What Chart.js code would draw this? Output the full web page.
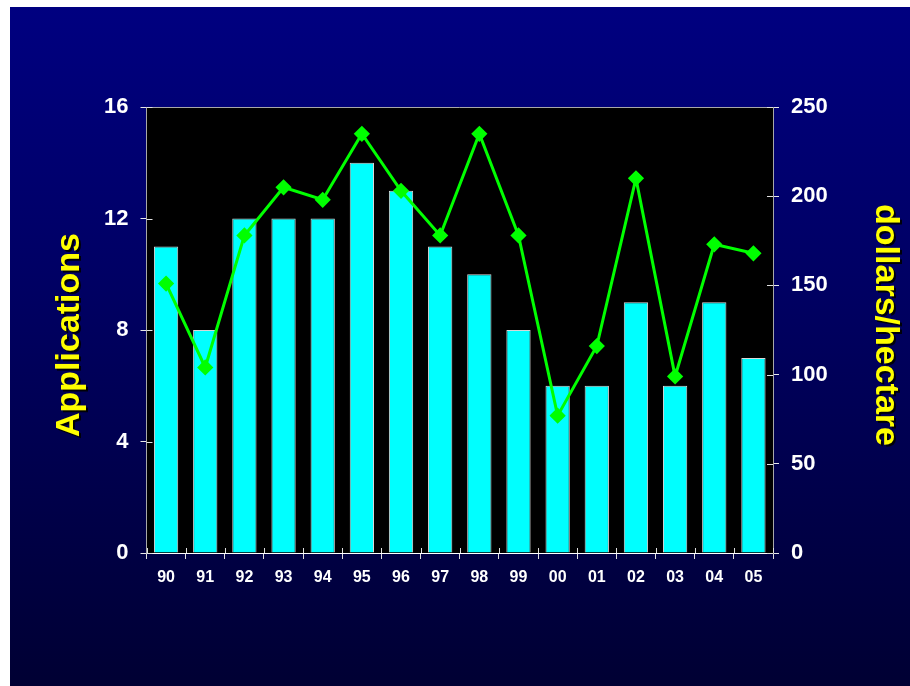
<!DOCTYPE html>
<html>
<head>
<meta charset="utf-8">
<script src="https://cdn.jsdelivr.net/npm/chart.js@4.4.1/dist/chart.umd.min.js"></script>
<style>
  html, body { margin: 0; padding: 0; background: #fff; }
  #wrap {
    position: absolute; left: 10px; top: 7px; width: 900px; height: 679px;
    background: linear-gradient(to bottom, #000080 0%, #000060 45%, #000033 100%);
  }
</style>
</head>
<body>
<div id="wrap"><canvas id="chart" width="900" height="679"></canvas></div>
<script>
const years = ["90", "91", "92", "93", "94", "95", "96", "97", "98", "99", "00", "01", "02", "03", "04", "05"];
const applications = [11, 8, 12, 12, 12, 14, 13, 11, 10, 8, 6, 6, 9, 6, 9, 7];
const dollarsPerHectare = [151, 104, 178, 205, 198, 235, 203, 178, 235, 178, 77, 116, 210, 99, 173, 168];
const leftTicks = [0, 4, 8, 12, 16];
const rightTicks = [0, 50, 100, 150, 200, 250];

const tickFont = { family: "Liberation Sans", size: 22, weight: "bold" };
const titleShift = { y: 5, y2: -5 };

// black plot area, top frame line and the inner half of each tick mark
const plotFrame = {
  id: "plotFrame",
  beforeDraw(chart) {
    const { ctx, chartArea: a } = chart;
    ctx.save();
    ctx.fillStyle = "#000";
    ctx.fillRect(a.left, a.top, a.right - a.left, a.bottom - a.top);
    ctx.restore();
  },
  afterDraw(chart) {
    const { ctx, chartArea: a, scales } = chart;
    ctx.save();
    ctx.lineWidth = 1;
    ctx.strokeStyle = "#a8a8a8";
    ctx.beginPath();
    ctx.moveTo(a.left, a.top + 0.5);
    ctx.lineTo(a.right, a.top + 0.5);
    ctx.stroke();
    ctx.strokeStyle = "#e0e0e0";
    ctx.beginPath();
    scales.y.ticks.forEach((t, i) => {
      const y = Math.round(scales.y.getPixelForTick(i)) + 0.5;
      ctx.moveTo(a.left, y); ctx.lineTo(a.left + 6, y);
    });
    scales.y2.ticks.forEach((t, i) => {
      const y = Math.round(scales.y2.getPixelForTick(i)) + 0.5;
      ctx.moveTo(a.right, y); ctx.lineTo(a.right - 6, y);
    });
    const x0 = scales.x.getPixelForValue(0);
    const w = scales.x.getPixelForValue(1) - x0;
    for (let i = 0; i <= years.length; i++) {
      const x = Math.round(x0 - w / 2 + i * w) + 0.5;
      ctx.moveTo(x, a.bottom); ctx.lineTo(x, a.bottom - 5);
    }
    ctx.stroke();
    ctx.restore();
  },
  afterUpdate(chart) {
    ["y", "y2"].forEach(id => {
      const s = chart.scales[id];
      if (s._shadowWrapped) return;
      const orig = s.drawTitle.bind(s);
      s.drawTitle = function () {
        const ctx = this.ctx;
        ctx.save();
        ctx.translate(0, titleShift[id]);
        ctx.shadowColor = "rgba(0,0,0,0.9)";
        ctx.shadowOffsetX = 2;
        ctx.shadowOffsetY = 2;
        ctx.shadowBlur = 0;
        orig();
        ctx.restore();
      };
      s._shadowWrapped = true;
    });
  }
};

new Chart(document.getElementById("chart").getContext("2d"), {
  type: "bar",
  data: {
    labels: years,
    datasets: [
      {
        type: "line",
        label: "dollars/hectare",
        data: dollarsPerHectare,
        yAxisID: "y2",
        borderColor: "#00ff00",
        backgroundColor: "#00ff00",
        borderWidth: 3,
        pointStyle: "rectRot",
        pointRadius: 6,
        tension: 0,
        order: 0
      },
      {
        label: "Applications",
        data: applications,
        yAxisID: "y",
        backgroundColor: "#00ffff",
        borderColor: "#d8d8d8",
        borderWidth: 1,
        barPercentage: 0.62,
        categoryPercentage: 1,
        order: 1
      }
    ]
  },
  options: {
    responsive: false,
    animation: false,
    layout: { padding: { top: 100, left: 0, right: 0, bottom: 0 } },
    plugins: { legend: { display: false }, tooltip: { enabled: false } },
    scales: {
      x: {
        offset: true,
        grid: { offset: true, drawOnChartArea: false, drawTicks: true, tickLength: 6, color: "#e0e0e0" },
        border: { color: "#ffffff", width: 1 },
        ticks: { color: "#ffffff", font: { family: "Liberation Sans", size: 16, weight: "bold" }, padding: 9, maxRotation: 0, autoSkip: false },
        afterFit(s) { s.height = 133; }
      },
      y: {
        position: "left",
        min: 0,
        max: 16,
        afterBuildTicks(s) { s.ticks = leftTicks.map(v => ({ value: v })); },
        grid: { drawOnChartArea: false, tickLength: 6, color: "#e8e8e8" },
        border: { color: "#a8a8a8", width: 1 },
        ticks: { color: "#ffffff", font: tickFont, padding: 12 },
        title: {
          display: true,
          text: "Applications",
          color: "#ffff00",
          font: { family: "Liberation Sans", size: 34, weight: "bold", lineHeight: 1 },
          padding: { top: 43, bottom: 0 }
        },
        afterFit(s) { s.width = 136.5; }
      },
      y2: {
        position: "right",
        min: 0,
        max: 250,
        afterBuildTicks(s) { s.ticks = rightTicks.map(v => ({ value: v })); },
        grid: { drawOnChartArea: false, tickLength: 6, color: "#e8e8e8" },
        border: { color: "#a8a8a8", width: 1 },
        ticks: { color: "#ffffff", font: tickFont, padding: 12 },
        title: {
          display: true,
          text: "dollars/hectare",
          color: "#ffff00",
          font: { family: "Liberation Sans", size: 34, weight: "bold", lineHeight: 1 },
          padding: { top: 8, bottom: 0 }
        },
        afterFit(s) { s.width = 137; }
      }
    }
  },
  plugins: [plotFrame]
});
</script>
</body>
</html>
